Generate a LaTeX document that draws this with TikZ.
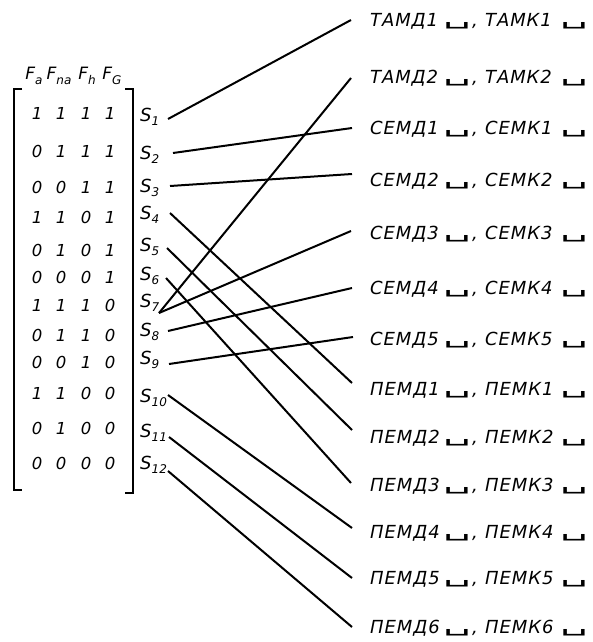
\documentclass[tikz,border=0pt]{standalone}
\usepackage{fontspec}
\setmainfont{DejaVu Sans}
\newfontfamily\lf{DejaVu Sans}[LetterSpace=5]
\newcommand\lowr[1]{\raisebox{-4.5pt}{\fontsize{12}{12}\selectfont #1}}
\newcommand\blnk{\scalebox{2.4}[1.1]{␣}}
\begin{document}
\begin{tikzpicture}[x=1pt,y=-1pt,
  hd/.style={font=\itshape\fontsize{17}{17}\selectfont, inner sep=0},
  dig/.style={font=\itshape\fontsize{16.5}{16.5}\selectfont, inner sep=0},
  sl/.style={font=\itshape\fontsize{18}{18}\selectfont, inner sep=0, anchor=west},
  lbl/.style={font=\lf\itshape\fontsize{18}{18}\selectfont, inner sep=0, anchor=base west},
  sym/.style={font=\fontsize{18}{18}\selectfont, inner sep=0, anchor=base},
  wire/.style={line width=2pt},
  brk/.style={line width=2pt}]
\useasboundingbox (0,0) rectangle (593,642);
% headers
\node[hd] (ha) at (34,76) {F\lowr{a}};
\node[hd] (hna) at (59,76) {F\lowr{na}};
\node[hd] (hh) at (87,76) {F\lowr{h}};
\node[hd] (hg) at (112,76) {F\lowr{G}};
% brackets
\draw[brk] (22,89) -- (14,89) -- (14,490) -- (22,490);
\draw[brk] (125,89) -- (133,89) -- (133,493) -- (125,493);
% matrix
\foreach \r/\y/\a/\b/\c/\d in {1/113/1/1/1/1, 2/151/0/1/1/1, 3/187/0/0/1/1, 4/217/1/1/0/1,
  5/250/0/1/0/1, 6/277/0/0/0/1, 7/305/1/1/1/0, 8/335/0/1/1/0, 9/362/0/0/1/0,
  10/393/1/1/0/0, 11/428/0/1/0/0, 12/463/0/0/0/0} {
  \node[dig] (m\r a) at (37,\y) {\a};
  \node[dig] (m\r b) at (61,\y) {\b};
  \node[dig] (m\r c) at (86,\y) {\c};
  \node[dig] (m\r d) at (110,\y) {\d};
}
% S labels
\foreach \n/\y in {1/117,2/155,3/188,4/215,5/247,6/276,7/303,8/332,9/360,10/398,11/433,12/465}
  \node[sl] (s\n) at (140,\y) {S\lowr{\n}};
% right labels
\foreach \k/\y/\w/\v in {1/20/ТАМД1/ТАМК1, 2/77/ТАМД2/ТАМК2, 3/128/СЕМД1/СЕМК1, 4/180/СЕМД2/СЕМК2,
  5/233/СЕМД3/СЕМК3, 6/288/СЕМД4/СЕМК4, 7/339/СЕМД5/СЕМК5, 8/389/ПЕМД1/ПЕМК1,
  9/437/ПЕМД2/ПЕМК2, 10/485/ПЕМД3/ПЕМК3, 11/532/ПЕМД4/ПЕМК4, 12/578/ПЕМД5/ПЕМК5, 13/627/ПЕМД6/ПЕМК6} {
  \node[lbl] (tw\k) at (370,\y+6.5) {\w};
  \node[sym] (tb\k) at (457,\y+4.5) {\blnk};
  \node[lbl] (tc\k) at (472,\y+6.5) {,};
  \node[lbl] (tv\k) at (485,\y+6.5) {\v};
  \node[sym] (tz\k) at (574,\y+4.5) {\blnk};
}
% connector endpoints
\foreach \n/\x/\y in {1/168/119,2/173/153,3/170/186,4/170/213,5/167/248,6/166/278,
  7/159/313,8/168/331,9/169/364,10/168/395,11/169/437,12/168/471}
  \coordinate (p\n) at (\x,\y);
\foreach \n/\x/\y in {1/351/20,2/351/78,3/352/128,4/352/174,5/351/231,6/352/288,7/353/337,
  8/352/383,9/352/430,10/351/483,11/352/528,12/352/578,13/352/627}
  \coordinate (e\n) at (\x,\y);
\foreach \a/\b in {1/1,2/3,3/4,4/8,5/9,6/10,7/2,7/5,8/6,9/7,10/11,11/12,12/13}
  \draw[wire] (p\a) -- (e\b);
\end{tikzpicture}
\end{document}
